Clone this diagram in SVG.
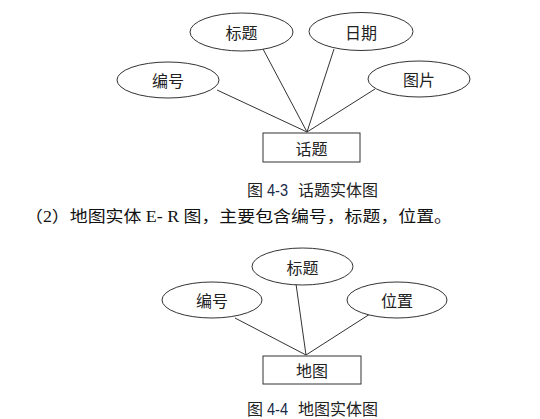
<svg xmlns="http://www.w3.org/2000/svg" width="540" height="419" viewBox="0 0 540 419">
<style>
.e{fill:#fff;stroke:#333;stroke-width:1}
.r{fill:#fff;stroke:#333;stroke-width:1}
.l{stroke:#333;stroke-width:1;fill:none}
.t{font-family:"Noto Sans CJK SC",sans-serif;font-size:16px;fill:#222;text-anchor:middle;dominant-baseline:central}
.c{font-family:"Noto Sans CJK SC",sans-serif;font-size:16px;fill:#222}
.n{font-family:"Liberation Sans","Noto Sans CJK SC",sans-serif;font-size:16px;fill:#1a2a4a}
.b{font-family:"Liberation Serif","Noto Sans CJK SC",serif;font-size:16px;fill:#111}
</style>
<rect width="540" height="419" fill="#fff"/>
<g id="connectors">
<line class="l" x1="217" y1="90" x2="307" y2="132"/>
<line class="l" x1="263" y1="49" x2="307" y2="132"/>
<line class="l" x1="334" y1="49" x2="307" y2="132"/>
<line class="l" x1="375" y1="89" x2="307" y2="132"/>
<line class="l" x1="235" y1="318" x2="306" y2="355"/>
<line class="l" x1="296" y1="284" x2="306" y2="355"/>
<line class="l" x1="370" y1="314" x2="306" y2="355"/>
</g>
<g id="n1"><ellipse class="e" cx="241.5" cy="32" rx="51.5" ry="19"/><text class="t" x="241.5" y="32">标题</text></g>
<g id="n2"><ellipse class="e" cx="361" cy="31.5" rx="52" ry="19"/><text class="t" x="361" y="31.5">日期</text></g>
<g id="n3"><ellipse class="e" cx="168" cy="80" rx="51" ry="18"/><text class="t" x="168" y="80">编号</text></g>
<g id="n4"><ellipse class="e" cx="419" cy="79" rx="51" ry="18"/><text class="t" x="419" y="79">图片</text></g>
<g id="n5"><rect class="r" x="263" y="133" width="97" height="29"/><text class="t" x="311.5" y="147.5">话题</text></g>
<text class="c" x="247" y="196">图</text>
<text class="n" x="267" y="196" textLength="21" lengthAdjust="spacingAndGlyphs">4-3</text>
<text class="c" x="298" y="196" textLength="80" lengthAdjust="spacingAndGlyphs">话题实体图</text>
<text class="b" x="25" y="222" textLength="427" lengthAdjust="spacingAndGlyphs">（2）地图实体 E- R 图，主要包含编号，标题，位置。</text>
<g id="m1"><ellipse class="e" cx="302.5" cy="266.5" rx="50.5" ry="18.5"/><text class="t" x="302.5" y="266.5">标题</text></g>
<g id="m2"><ellipse class="e" cx="212" cy="300" rx="50" ry="18"/><text class="t" x="212" y="300">编号</text></g>
<g id="m3"><ellipse class="e" cx="397" cy="300" rx="50" ry="18"/><text class="t" x="397" y="300">位置</text></g>
<g id="m4"><rect class="r" x="263" y="356" width="98" height="28"/><text class="t" x="312" y="370">地图</text></g>
<text class="c" x="247" y="415">图</text>
<text class="n" x="267" y="415" textLength="21" lengthAdjust="spacingAndGlyphs">4-4</text>
<text class="c" x="298" y="415" textLength="80" lengthAdjust="spacingAndGlyphs">地图实体图</text>
</svg>
